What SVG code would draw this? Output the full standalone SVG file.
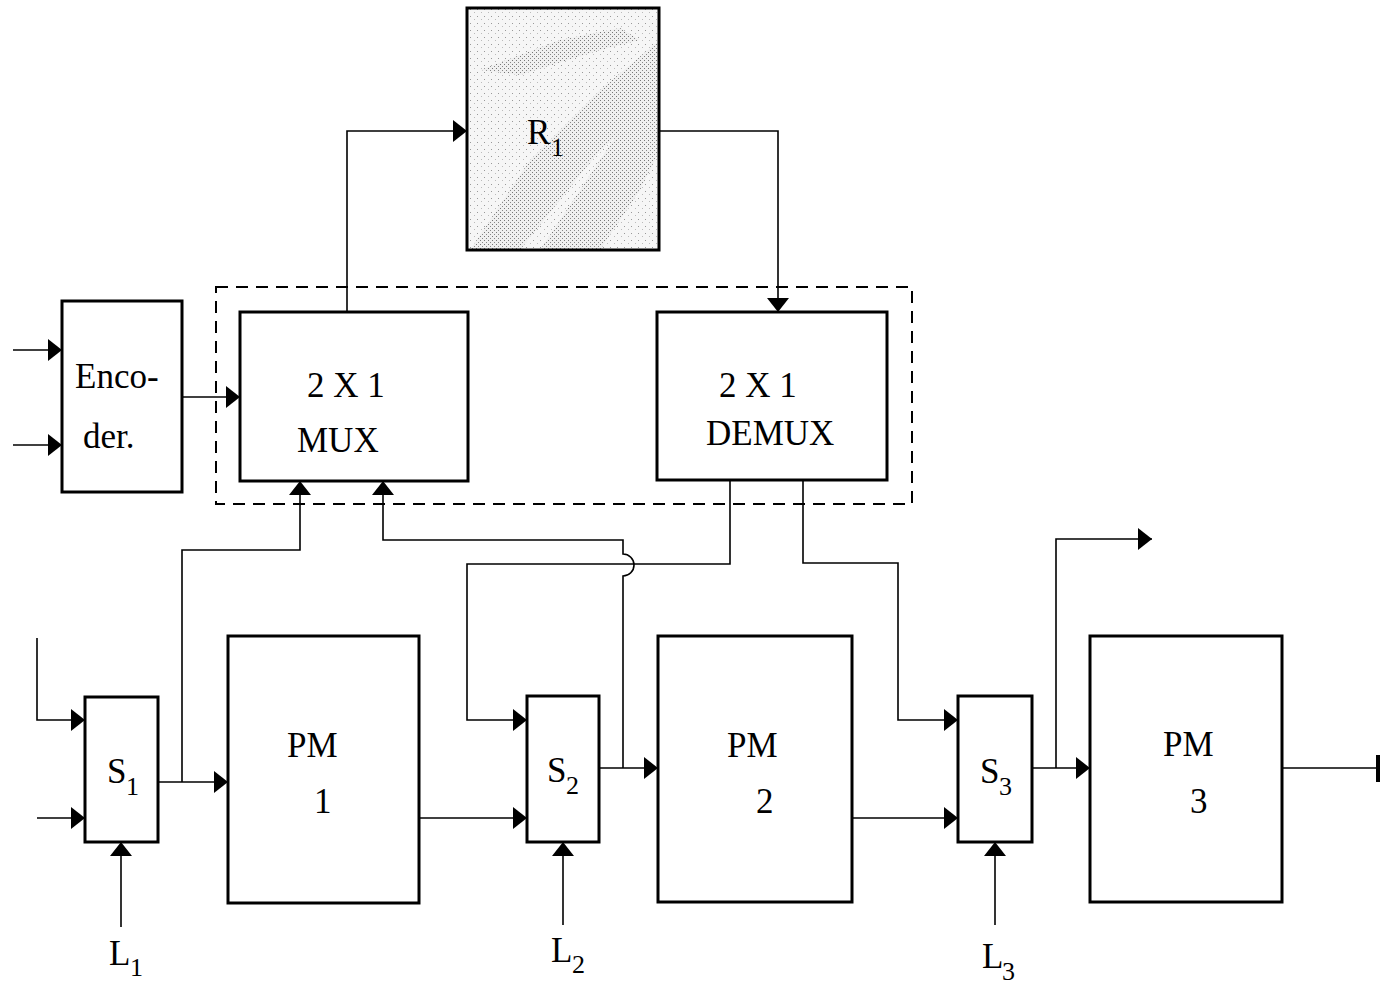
<svg xmlns="http://www.w3.org/2000/svg" width="1380" height="984" viewBox="0 0 1380 984">
<style>
.box{fill:#fff;stroke:#000;stroke-width:3}
.sbox{fill:#fff;stroke:#000;stroke-width:3}
.wire{fill:none;stroke:#000;stroke-width:1.6}
.arr{fill:none;stroke:#000;stroke-width:1.6;marker-end:url(#ah)}
.dash{fill:none;stroke:#000;stroke-width:2;stroke-dasharray:12 8}
text{font-family:"Liberation Serif","Times New Roman",serif;fill:#000}
.lbl{font-size:35px}
.sub{font-size:26px}
</style>
<defs>
<marker id="ah" markerUnits="userSpaceOnUse" markerWidth="14" markerHeight="22" refX="14" refY="11" orient="auto">
<path d="M0,0 L14,11 L0,22 z" fill="#000"/>
</marker>
<pattern id="light" width="7" height="7" patternUnits="userSpaceOnUse">
<rect width="7" height="7" fill="#f6f6f6"/>
<rect x="1" y="2" width="1" height="1" fill="#999"/>
<rect x="5" y="5" width="1" height="1" fill="#bbb"/>
</pattern>
<pattern id="dense" width="4" height="4" patternUnits="userSpaceOnUse">
<rect width="4" height="4" fill="#f0f0f0"/>
<rect x="0" y="0" width="1" height="1" fill="#777"/>
<rect x="2" y="2" width="1" height="1" fill="#888"/>
</pattern>
<clipPath id="rclip"><rect x="467" y="8" width="192" height="242"/></clipPath>
</defs>

<g id="connectors">
<path class="arr" d="M347,312 V131 H467"/>
<path class="arr" d="M659,131 H778 V312"/>
<path class="arr" d="M13,350 H62"/>
<path class="arr" d="M13,445 H62"/>
<path class="arr" d="M182,397 H240"/>
<path class="arr" d="M37,638 V720 H85"/>
<path class="arr" d="M37,818 H85"/>
<path class="arr" d="M121,927 V842"/>
<path class="arr" d="M158,782 H228"/>
<path class="arr" d="M182,782 V550 H300 V481"/>
<path class="arr" d="M419,818 H527"/>
<path class="arr" d="M563,925 V842"/>
<path class="arr" d="M599,768 H658"/>
<path class="arr" d="M623,768 V576 A11,11 0 0 0 623,554 V540 H383 V481"/>
<path class="arr" d="M730,480 V564 H467 V720 H527"/>
<path class="arr" d="M803,480 V563 H898 V720 H958"/>
<path class="arr" d="M852,818 H958"/>
<path class="arr" d="M995,925 V842"/>
<path class="arr" d="M1032,768 H1090"/>
<path class="arr" d="M1056,768 V539 H1152"/>
<path class="wire" d="M1282,768 H1378"/>
<path d="M1378,755 V782" stroke="#000" stroke-width="4"/>
</g>

<g id="group-box">
<rect class="dash" x="216" y="287" width="696" height="217"/>
</g>

<g id="R1">
<rect x="467" y="8" width="192" height="242" fill="url(#light)"/>
<g clip-path="url(#rclip)">
<polygon points="470,250 520,250 600,150 660,100 660,40 600,90 530,160" fill="url(#dense)"/>
<polygon points="480,70 520,75 600,50 640,40 620,28 560,40" fill="url(#dense)"/>
<polygon points="540,250 600,250 640,190 660,150 660,90 620,130 580,190" fill="url(#dense)"/>
</g>
<rect x="467" y="8" width="192" height="242" fill="none" stroke="#000" stroke-width="3"/>
<text class="lbl" x="527" y="144">R</text>
<text class="sub" x="551" y="156">1</text>
</g>

<g id="encoder">
<rect class="box" x="62" y="301" width="120" height="191"/>
<text class="lbl" x="75" y="388">Enco-</text>
<text class="lbl" x="83" y="448">der.</text>
</g>

<g id="mux">
<rect class="box" x="240" y="312" width="228" height="169"/>
<text class="lbl" x="307" y="397">2 X  1</text>
<text class="lbl" x="297" y="452">MUX</text>
</g>

<g id="demux">
<rect class="box" x="657" y="312" width="230" height="168"/>
<text class="lbl" x="719" y="397">2 X  1</text>
<text class="lbl" x="706" y="445">DEMUX</text>
</g>

<g id="S1">
<rect class="sbox" x="85" y="697" width="73" height="145"/>
<text class="lbl" x="107" y="783">S</text>
<text class="sub" x="126" y="795">1</text>
</g>

<g id="PM1">
<rect class="box" x="228" y="636" width="191" height="267"/>
<text class="lbl" x="287" y="757">PM</text>
<text class="lbl" x="314" y="813">1</text>
</g>

<g id="S2">
<rect class="sbox" x="527" y="696" width="72" height="146"/>
<text class="lbl" x="547" y="782">S</text>
<text class="sub" x="566" y="794">2</text>
</g>

<g id="PM2">
<rect class="box" x="658" y="636" width="194" height="266"/>
<text class="lbl" x="727" y="757">PM</text>
<text class="lbl" x="756" y="813">2</text>
</g>

<g id="S3">
<rect class="sbox" x="958" y="696" width="74" height="146"/>
<text class="lbl" x="980" y="783">S</text>
<text class="sub" x="999" y="795">3</text>
</g>

<g id="PM3">
<rect class="box" x="1090" y="636" width="192" height="266"/>
<text class="lbl" x="1163" y="756">PM</text>
<text class="lbl" x="1190" y="813">3</text>
</g>

<g id="L1">
<text class="lbl" x="109" y="965">L</text>
<text class="sub" x="130" y="976">1</text>
</g>
<g id="L2">
<text class="lbl" x="551" y="962">L</text>
<text class="sub" x="572" y="973">2</text>
</g>
<g id="L3">
<text class="lbl" x="982" y="968">L</text>
<text class="sub" x="1002" y="980">3</text>
</g>
</svg>
